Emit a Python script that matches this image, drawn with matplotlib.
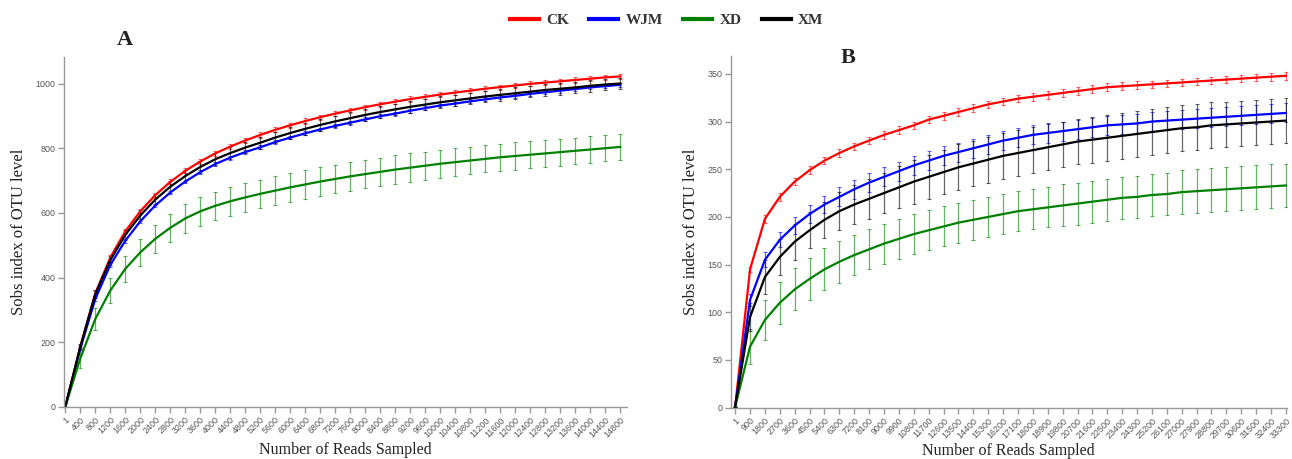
import matplotlib
matplotlib.use("Agg")
import matplotlib.pyplot as plt
from matplotlib.lines import Line2D

# Panel A: sampled reads and Sobs values (at each tick)
reads_a = [1] + list(range(400, 14801, 400))
ck_a = [1, 186, 351, 462, 543, 605, 655, 696, 730, 759, 784, 805, 824, 841, 857, 871,
        884, 896, 907, 917, 927, 936, 944, 952, 959, 966, 972, 978, 984, 989, 994, 999,
        1003, 1007, 1011, 1015, 1019, 1022]
wjm_a = [1, 180, 334, 439, 514, 574, 623, 663, 697, 726, 751, 771, 788, 803, 819, 833,
         846, 858, 869, 879, 889, 899, 907, 916, 924, 932, 938, 945, 951, 957, 962, 968,
         973, 978, 983, 988, 992, 996]
xd_a = [1, 150, 272, 360, 427, 478, 520, 554, 583, 605, 622, 636, 648, 659, 669, 679,
        688, 697, 705, 713, 720, 727, 734, 740, 746, 752, 757, 762, 767, 772, 776, 780,
        784, 788, 792, 796, 800, 804]
xm_a = [1, 186, 349, 454, 532, 592, 641, 681, 714, 742, 766, 785, 802, 817, 833, 847,
        860, 872, 883, 893, 903, 912, 920, 928, 935, 942, 948, 954, 960, 965, 970, 975,
        980, 984, 988, 993, 997, 1000]
ck_a_err = [0, 5, 7, 8, 8, 8, 8, 8, 8, 8, 8, 8, 8, 8, 8, 8, 8, 8, 8, 8, 8, 8, 8, 8, 8,
            8, 8, 8, 8, 8, 8, 8, 8, 8, 8, 8, 8, 8]
wjm_a_err = [0, 4, 5, 6, 6, 6, 6, 6, 6, 6, 6, 6, 6, 6, 6, 6, 6, 6, 6, 6, 6, 6, 6, 6, 6,
             6, 6, 6, 6, 6, 6, 6, 6, 6, 6, 6, 6, 6]
xd_a_err = [0, 30, 35, 38, 40, 42, 43, 44, 44, 44, 44, 44, 44, 44, 44, 44, 44, 44, 44,
            44, 44, 44, 44, 44, 43, 43, 43, 43, 42, 42, 42, 42, 42, 42, 41, 41, 41, 41]
xm_a_err = [0, 8, 12, 14, 15, 16, 17, 18, 18, 18, 18, 18, 18, 18, 18, 18, 18, 18, 18,
            18, 18, 18, 18, 18, 18, 18, 18, 18, 18, 18, 18, 18, 18, 18, 18, 18, 18, 18]

# Panel B
reads_b = [1] + list(range(900, 33301, 900))
ck_b = [1, 145, 198, 221, 237, 249, 259, 267, 274, 280, 286, 291, 296, 302, 306, 310,
        314, 318, 321, 324, 326, 328, 330, 332, 334, 336, 337, 338, 339, 340, 341, 342,
        343, 344, 345, 346, 347, 348]
wjm_b = [1, 113, 155, 176, 191, 203, 213, 221, 229, 236, 242, 248, 254, 259, 264, 268,
         272, 276, 280, 283, 286, 288, 290, 292, 294, 296, 297, 298, 300, 301, 302, 303,
         304, 305, 306, 307, 308, 309]
xd_b = [1, 64, 92, 110, 124, 135, 145, 153, 160, 166, 172, 177, 182, 186, 190, 194,
        197, 200, 203, 206, 208, 210, 212, 214, 216, 218, 220, 221, 223, 224, 226, 227,
        228, 229, 230, 231, 232, 233]
xm_b = [1, 95, 137, 158, 174, 186, 197, 206, 213, 219, 225, 231, 237, 242, 247, 252,
        256, 260, 264, 267, 270, 273, 276, 279, 281, 283, 285, 287, 289, 291, 293, 294,
        296, 297, 298, 299, 300, 301]
ck_b_err = [0, 3, 4, 4, 4, 4, 4, 4, 4, 4, 4, 4, 4, 4, 4, 4, 4, 4, 4, 4, 4, 4, 4, 4, 4,
            4, 4, 4, 4, 4, 4, 4, 4, 4, 4, 4, 4, 4]
wjm_b_err = [0, 6, 8, 8, 9, 9, 9, 10, 10, 10, 10, 10, 10, 10, 10, 10, 10, 10, 10, 10,
             10, 10, 10, 10, 10, 10, 10, 10, 10, 10, 10, 10, 10, 10, 10, 10, 10, 10]
xd_b_err = [0, 18, 21, 22, 22, 22, 22, 22, 21, 21, 21, 21, 21, 21, 21, 21, 21, 21, 21,
            21, 21, 21, 22, 22, 22, 22, 22, 22, 22, 22, 23, 23, 23, 23, 23, 23, 23, 23]
xm_b_err = [0, 15, 18, 19, 19, 19, 19, 20, 20, 21, 21, 22, 23, 23, 23, 24, 24, 24, 24,
            24, 24, 24, 24, 24, 24, 24, 24, 24, 24, 24, 24, 24, 24, 24, 24, 24, 24, 24]

groups = ["CK", "WJM", "XD", "XM"]
colors = ["#ff0000", "#0000ff", "#008000", "#000000"]

serif = "Liberation Serif"
sans = "Liberation Sans"

fig = plt.figure(figsize=(12.92, 4.59), dpi=100)
axA = fig.add_axes([0.0495, 0.1133, 0.4358, 0.7625])
axB = fig.add_axes([0.5658, 0.1118, 0.4300, 0.7668])


def draw_panel(ax, reads, series, errors, xlim, ylim, yticks):
    for y, e, c in zip(series, errors, colors):
        ax.errorbar(reads, y, yerr=e, fmt="none", ecolor=c, elinewidth=0.9,
                    capsize=1.3, capthick=0.8, alpha=0.6)
    for y, c in zip(series, colors):
        ax.plot(reads, y, color=c, lw=1.6)
    ax.set_xlim(*xlim)
    ax.set_ylim(*ylim)
    ax.set_yticks(yticks)
    ax.set_xticks(reads)
    ax.set_xticklabels([str(r) for r in reads], rotation=45, ha="right",
                       rotation_mode="anchor", fontfamily=sans)
    for lab in ax.get_yticklabels():
        lab.set_fontfamily(sans)
    for s in ["top", "right"]:
        ax.spines[s].set_visible(False)
    for s in ["left", "bottom"]:
        ax.spines[s].set_color("#999999")
        ax.spines[s].set_linewidth(1.0)
    ax.tick_params(color="#999999", length=4, width=1, labelsize=6.4,
                   labelcolor="#555555", pad=2)
    ax.set_xlabel("Number of Reads Sampled", fontfamily=serif, fontsize=11.5,
                  color="#222222", va="center")
    ax.xaxis.set_label_coords(0.5, -0.124)
    ax.set_ylabel("Sobs index of OTU level", fontfamily=serif, fontsize=12,
                  color="#222222", labelpad=6)


draw_panel(axA, reads_a, [ck_a, wjm_a, xd_a, xm_a],
           [ck_a_err, wjm_a_err, xd_a_err, xm_a_err],
           (-35, 14980), (0, 1082), [0, 200, 400, 600, 800, 1000])
draw_panel(axB, reads_b, [ck_b, wjm_b, xd_b, xm_b],
           [ck_b_err, wjm_b_err, xd_b_err, xm_b_err],
           (-250, 33340), (0, 369), [0, 50, 100, 150, 200, 250, 300, 350])

# panel letters
fig.text(125 / 1292, 1 - 40 / 459, "A", fontfamily=serif, fontweight="bold",
         fontsize=16, ha="center", va="center", color="#222222")
fig.text(848 / 1292, 1 - 58 / 459, "B", fontfamily=serif, fontweight="bold",
         fontsize=16, ha="center", va="center", color="#222222")

handles = [Line2D([0], [0], color=c, lw=3) for c in colors]
fig.legend(handles, groups, loc="center", bbox_to_anchor=(0.516, 0.956), ncol=4,
           frameon=False, handlelength=1.9, handletextpad=0.5, columnspacing=1.3,
           prop={"family": serif, "weight": "bold", "size": 11}, labelcolor="#333333")

fig.savefig("out.png", dpi=100)
